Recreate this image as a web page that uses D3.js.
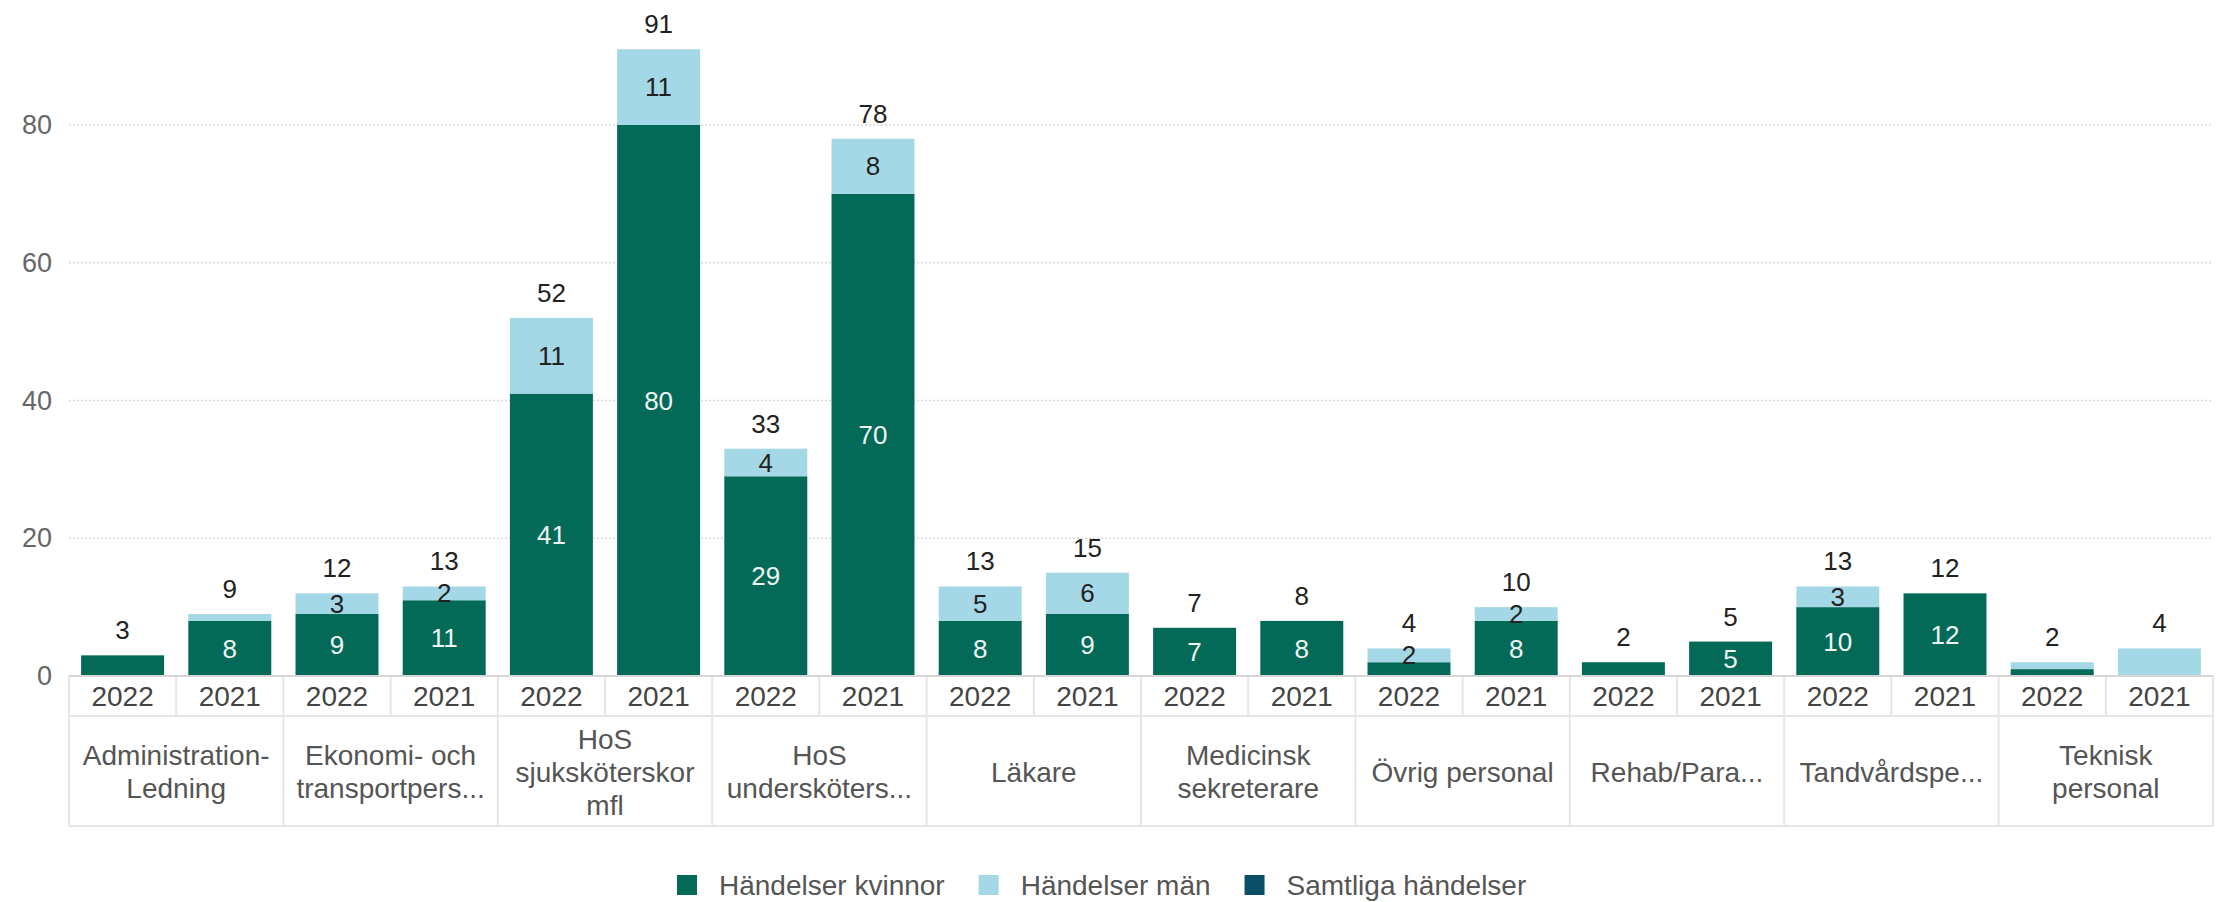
<!DOCTYPE html>
<html>
<head>
<meta charset="utf-8">
<script src="https://cdn.jsdelivr.net/npm/d3@7"></script>
<style>
  body { margin: 0; background: #fff; }
  svg { display: block; font-family: "Liberation Sans", Arial, sans-serif; }
</style>
</head>
<body>
<div id="chart"></div>
<script>
const categories = [
  "Administration-\nLedning",
  "Ekonomi- och\ntransportpers...",
  "HoS\nsjuksköterskor\nmfl",
  "HoS\nundersköters...",
  "Läkare",
  "Medicinsk\nsekreterare",
  "Övrig personal",
  "Rehab/Para...",
  "Tandvårdspe...",
  "Teknisk\npersonal"
];
const years = ["2022", "2021"];
// one value per bar: category order, 2022 then 2021
const kvinnor = [3, 8, 9, 11, 41, 80, 29, 70, 8, 9, 7, 8, 2, 8, 2, 5, 10, 12, 1, 0];
const man = [0, 1, 3, 2, 11, 11, 4, 8, 5, 6, 0, 0, 2, 2, 0, 0, 3, 0, 1, 4];
const samtliga = [3, 9, 12, 13, 52, 91, 33, 78, 13, 15, 7, 8, 4, 10, 2, 5, 13, 12, 2, 4];
const yTicks = [0, 20, 40, 60, 80];
const legendNames = ["Händelser kvinnor", "Händelser män", "Samtliga händelser"];

const WIDTH = 2223;
const HEIGHT = 902;
const colors = { kvinnor: "#046a58", man: "#a5d8e6", samtliga: "#0b4f66" };

const bars = [];
categories.forEach((c, i) => {
  years.forEach((yr, j) => {
    const k = i * 2 + j;
    bars.push({ key: k, cat: i, year: yr, kvinnor: kvinnor[k], man: man[k], total: samtliga[k] });
  });
});

const svg = d3.select("#chart").append("svg")
  .attr("width", WIDTH)
  .attr("height", HEIGHT);

const x = d3.scaleBand()
  .domain(bars.map(d => d.key))
  .range([69, 2213])
  .paddingInner(0.226)
  .paddingOuter(0.113);

const y = d3.scaleLinear()
  .domain([0, 80])
  .range([676, 125]);

const step = x.step();
const edge = k => x(k) - step * x.paddingInner() / 2;

// gridlines
svg.append("g")
  .selectAll("line")
  .data(yTicks.filter(t => t > 0))
  .enter()
  .append("line")
  .attr("x1", 69)
  .attr("x2", 2213)
  .attr("y1", d => y(d))
  .attr("y2", d => y(d))
  .style("stroke", "#d9d9d9")
  .style("stroke-width", 1.5)
  .style("stroke-dasharray", "2,2");

// y axis
const yAxis = svg.append("g")
  .attr("transform", "translate(52,0)")
  .call(d3.axisLeft(y).tickValues(yTicks).tickSize(0).tickPadding(0));
yAxis.select(".domain").remove();
yAxis.selectAll("text")
  .style("font-size", "27px")
  .style("fill", "#666")
  .style("font-family", "Liberation Sans, Arial, sans-serif");

// stacked bars
svg.append("g")
  .selectAll("rect.kvinnor")
  .data(bars.filter(d => d.kvinnor > 0))
  .enter()
  .append("rect")
  .attr("class", "kvinnor")
  .attr("x", d => x(d.key))
  .attr("width", x.bandwidth())
  .attr("y", d => y(d.kvinnor))
  .attr("height", d => y(0) - y(d.kvinnor))
  .style("fill", colors.kvinnor);

svg.append("g")
  .selectAll("rect.man")
  .data(bars.filter(d => d.man > 0))
  .enter()
  .append("rect")
  .attr("class", "man")
  .attr("x", d => x(d.key))
  .attr("width", x.bandwidth())
  .attr("y", d => y(d.kvinnor + d.man))
  .attr("height", d => y(d.kvinnor) - y(d.kvinnor + d.man))
  .style("fill", colors.man);

// labels inside segments
svg.append("g")
  .selectAll("text")
  .data(bars.filter(d => d.kvinnor >= 5))
  .enter()
  .append("text")
  .attr("x", d => x(d.key) + x.bandwidth() / 2)
  .attr("y", d => y(d.kvinnor / 2))
  .attr("dy", "0.35em")
  .attr("text-anchor", "middle")
  .style("font-size", "26px")
  .style("fill", "#eef5f3")
  .text(d => d.kvinnor);

svg.append("g")
  .selectAll("text")
  .data(bars.filter(d => d.man >= 2 && d.kvinnor > 0))
  .enter()
  .append("text")
  .attr("x", d => x(d.key) + x.bandwidth() / 2)
  .attr("y", d => y(d.kvinnor + d.man / 2))
  .attr("dy", "0.35em")
  .attr("text-anchor", "middle")
  .style("font-size", "26px")
  .style("fill", "#222")
  .text(d => d.man);

// totals
svg.append("g")
  .selectAll("text")
  .data(bars)
  .enter()
  .append("text")
  .attr("x", d => x(d.key) + x.bandwidth() / 2)
  .attr("y", d => y(d.total) - 16)
  .attr("text-anchor", "middle")
  .style("font-size", "26px")
  .style("fill", "#222")
  .text(d => d.total);

// category table under the axis
const table = svg.append("g")
  .style("stroke", "#e6e6e6")
  .style("stroke-width", 2);

table.append("line")
  .attr("x1", 69).attr("x2", 2213)
  .attr("y1", 716).attr("y2", 716);
table.append("line")
  .attr("x1", 69).attr("x2", 2213)
  .attr("y1", 826).attr("y2", 826);

// minor dividers (year row)
table.selectAll("line.minor")
  .data(bars.filter(d => d.key % 2 === 1))
  .enter()
  .append("line")
  .attr("class", "minor")
  .attr("x1", d => edge(d.key))
  .attr("x2", d => edge(d.key))
  .attr("y1", 676)
  .attr("y2", 716);

// major dividers
const majors = bars.filter(d => d.key % 2 === 0).map(d => edge(d.key)).concat([2213]);
table.selectAll("line.major")
  .data(majors)
  .enter()
  .append("line")
  .attr("class", "major")
  .attr("x1", d => d)
  .attr("x2", d => d)
  .attr("y1", 676)
  .attr("y2", 826);

// baseline
svg.append("line")
  .attr("x1", 69).attr("x2", 2213)
  .attr("y1", 676).attr("y2", 676)
  .style("stroke", "#d6d6d6")
  .style("stroke-width", 2);

svg.append("g")
  .selectAll("text")
  .data(bars)
  .enter()
  .append("text")
  .attr("x", d => x(d.key) + x.bandwidth() / 2)
  .attr("y", 696)
  .attr("dy", "0.35em")
  .attr("text-anchor", "middle")
  .style("font-size", "28px")
  .style("fill", "#444")
  .text(d => d.year);

const catLabels = svg.append("g")
  .selectAll("text")
  .data(categories)
  .enter()
  .append("text")
  .attr("x", (d, i) => (edge(i * 2) + (i < categories.length - 1 ? edge(i * 2 + 2) : 2213)) / 2)
  .attr("text-anchor", "middle")
  .style("font-size", "28px")
  .style("fill", "#555");

catLabels.each(function (d) {
  const lines = d.split("\n");
  const lh = 33;
  const top = 772 - (lines.length - 1) * lh / 2;
  d3.select(this)
    .selectAll("tspan")
    .data(lines)
    .enter()
    .append("tspan")
    .attr("x", d3.select(this).attr("x"))
    .attr("y", (l, j) => top + j * lh)
    .attr("dy", "0.35em")
    .text(l => l);
});

// legend
const legend = svg.append("g").attr("transform", "translate(677,885)");
let lx = 0;
legendNames.forEach((name, i) => {
  const c = [colors.kvinnor, colors.man, colors.samtliga][i];
  legend.append("rect")
    .attr("x", lx)
    .attr("y", -10)
    .attr("width", 20)
    .attr("height", 20)
    .style("fill", c);
  const t = legend.append("text")
    .attr("x", lx + 42)
    .attr("y", 0)
    .attr("dy", "0.35em")
    .style("font-size", "28px")
    .style("fill", "#555")
    .text(name);
  lx += 42 + t.node().getComputedTextLength() + 34;
});
</script>
</body>
</html>
